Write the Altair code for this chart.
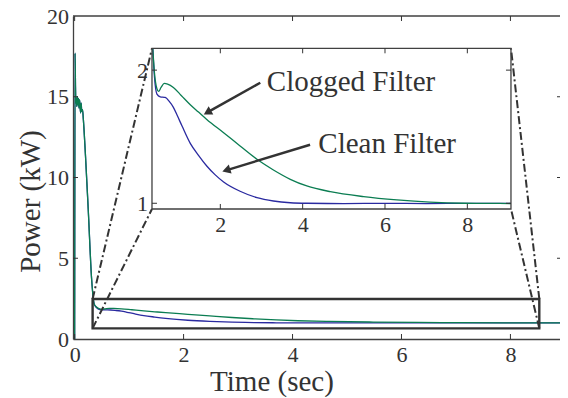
import math
import altair as alt
import pandas as pd

# ---------------- data ----------------
# start-up transient (shared by both cases)
T_SPIKE = [0.0, 0.008, 0.016, 0.024, 0.032, 0.040, 0.050, 0.060, 0.070, 0.080,
           0.090, 0.100, 0.110, 0.120, 0.130, 0.145, 0.160, 0.200, 0.250, 0.313]
P_SPIKE = [0.0, 17.7, 15.6, 14.6, 14.9, 14.4, 15.0, 14.5, 14.9, 14.3,
           14.8, 14.4, 14.0, 14.6, 14.1, 14.2, 13.6, 11.3, 8.0, 3.65]

# clogged filter (green)
T_CLOGGED = [0.36, 0.40, 0.46, 0.50, 0.56, 0.64, 0.72, 0.86, 1.05, 1.27, 1.47, 1.67,
             2.08, 2.48, 2.89, 3.29, 3.70, 4.10, 4.67, 5.48, 6.29, 7.09, 7.90, 8.50,
             9.06, 9.10]
P_CLOGGED = [2.16, 1.98, 1.86, 1.84, 1.87, 1.90, 1.895, 1.87, 1.81, 1.74, 1.685, 1.63,
             1.53, 1.43, 1.33, 1.25, 1.18, 1.13, 1.087, 1.05, 1.025, 1.008, 1.0, 0.999,
             0.998, 0.998]

# clean filter (blue)
T_CLEAN = [0.36, 0.40, 0.46, 0.54, 0.66, 0.76, 0.86, 0.96, 1.07, 1.27, 1.47, 1.67,
           1.87, 2.08, 2.48, 2.89, 3.29, 3.70, 4.10, 5.00, 6.00, 7.00, 8.00, 9.06, 9.10]
P_CLEAN = [2.16, 1.95, 1.82, 1.80, 1.795, 1.765, 1.72, 1.655, 1.58, 1.45, 1.36, 1.28,
           1.215, 1.16, 1.09, 1.042, 1.017, 1.004, 1.0, 0.998, 0.999, 0.998, 0.999,
           0.999, 0.999]

MAIN_XTICKS = [0, 2, 4, 6, 8]
MAIN_YTICKS = [0, 5, 10, 15, 20]
INSET_XTICKS = [2, 4, 6, 8]
INSET_YTICKS = [1, 2]

# zoom box in the main axes, and where the inset sits (main units)
RECT_X = [0.33, 8.53]
RECT_Y = [0.66, 2.48]
INSET_POS_X = [1.42, 8.01]
INSET_POS_Y = [8.05, 18.0]
INSET_XDOM = [0.34, 9.06]
INSET_YDOM = [0.957, 2.164]

ANN_LABELS = ["Clogged Filter", "Clean Filter"]
ANN_T = [3.13, 4.38]
ANN_P = [1.842, 1.377]
ARROW_TAIL_T = [2.97, 4.18]
ARROW_TAIL_P = [1.905, 1.44]
ARROW_TIP_T = [1.59, 2.04]
ARROW_TIP_P = [1.666, 1.238]

# ---------------- layout / style ----------------
W, H = 487, 323
XMAIN = [-0.03, 8.91]
YMAIN = [0, 20]
GREEN = "#0b7d52"
BLUE = "#2a2aa0"
INK = "#333333"
FONT = "Liberation Serif"


def sx(v):
    return (v - XMAIN[0]) / (XMAIN[1] - XMAIN[0]) * W


def sy(v):
    return H - (v - YMAIN[0]) / (YMAIN[1] - YMAIN[0]) * H


ix_range = [sx(INSET_POS_X[0]), sx(INSET_POS_X[1])]
iy_range = [sy(INSET_POS_Y[0]), sy(INSET_POS_Y[1])]

xs_main = alt.Scale(domain=XMAIN, range=[0, W], nice=False, zero=False)
ys_main = alt.Scale(domain=YMAIN, range=[H, 0], nice=False, zero=False)
xs_in = alt.Scale(domain=INSET_XDOM, range=ix_range, nice=False, zero=False)
ys_in = alt.Scale(domain=INSET_YDOM, range=iy_range, nice=False, zero=False)

df_clean = pd.DataFrame({"t": T_SPIKE + T_CLEAN, "P": P_SPIKE + P_CLEAN})
df_clog = pd.DataFrame({"t": T_SPIKE + T_CLOGGED, "P": P_SPIKE + P_CLOGGED})

label_style = dict(labelFont=FONT, labelFontSize=22, labelColor=INK,
                   labelFlush=False, labelOverlap=False, ticks=False,
                   grid=False)

# ---------------- main axes ----------------
x_axis_main = alt.Axis(values=MAIN_XTICKS, format="d", labelPadding=5.5,
                       domain=True, domainColor="#404040", domainWidth=1.3,
                       title="Time (sec)", titleFont=FONT, titleFontSize=29,
                       titleFontWeight="normal", titleColor=INK, titleX=198.5,
                       titleY=51, titleAlign="center", titleBaseline="alphabetic",
                       **label_style)
y_axis_main = alt.Axis(values=MAIN_YTICKS, format="d", labelPadding=4.5,
                       domain=True, domainColor="#404040", domainWidth=1.3,
                       title="Power (kW)", titleFont=FONT, titleFontSize=29,
                       titleFontWeight="normal", titleColor=INK, titleX=-34,
                       titleY=185, titleAlign="center", titleBaseline="alphabetic",
                       **label_style)

main_blue = alt.Chart(df_clean).mark_line(color=BLUE, strokeWidth=1.3,
                                          interpolate="monotone", clip=True).encode(
    x=alt.X("t:Q", scale=xs_main, axis=x_axis_main),
    y=alt.Y("P:Q", scale=ys_main, axis=y_axis_main),
)
main_green = alt.Chart(df_clog).mark_line(color=GREEN, strokeWidth=1.3,
                                          interpolate="monotone", clip=True).encode(
    x=alt.X("t:Q", scale=xs_main, axis=None),
    y=alt.Y("P:Q", scale=ys_main, axis=None),
)

rect_df = pd.DataFrame({"x1": [RECT_X[0]], "x2": [RECT_X[1]],
                        "y1": [RECT_Y[0]], "y2": [RECT_Y[1]]})
zoom_rect = alt.Chart(rect_df).mark_rect(fillOpacity=0, stroke=INK, strokeWidth=2.4).encode(
    x=alt.X("x1:Q", scale=xs_main, axis=None), x2="x2:Q",
    y=alt.Y("y1:Q", scale=ys_main, axis=None), y2="y2:Q",
)

conn_df = pd.DataFrame({
    "x1": [RECT_X[0], RECT_X[0], RECT_X[1], RECT_X[1]],
    "y1": [RECT_Y[1], RECT_Y[0], RECT_Y[1], RECT_Y[0]],
    "x2": [INSET_POS_X[0], INSET_POS_X[0], INSET_POS_X[1], INSET_POS_X[1]],
    "y2": [INSET_POS_Y[1], INSET_POS_Y[0], INSET_POS_Y[1], INSET_POS_Y[0]],
})
connectors = alt.Chart(conn_df).mark_rule(color=INK, strokeWidth=2,
                                          strokeDash=[8, 3, 2, 3]).encode(
    x=alt.X("x1:Q", scale=xs_main, axis=None), x2="x2:Q",
    y=alt.Y("y1:Q", scale=ys_main, axis=None), y2="y2:Q",
)

top_spine = alt.Chart(pd.DataFrame({"v": [YMAIN[1]]})).mark_rule(
    color="#404040", strokeWidth=1.3).encode(y=alt.Y("v:Q", scale=ys_main, axis=None))

xt_df = pd.DataFrame({"v": MAIN_XTICKS})
yt_df = pd.DataFrame({"v": MAIN_YTICKS[1:-1]})
tick_bottom = alt.Chart(xt_df).mark_rule(color=INK, strokeWidth=1).encode(
    x=alt.X("v:Q", scale=xs_main, axis=None), y=alt.value(H), y2=alt.value(H - 5))
tick_top = alt.Chart(xt_df).mark_rule(color=INK, strokeWidth=1).encode(
    x=alt.X("v:Q", scale=xs_main, axis=None), y=alt.value(0), y2=alt.value(5))
tick_left = alt.Chart(yt_df).mark_rule(color=INK, strokeWidth=1).encode(
    y=alt.Y("v:Q", scale=ys_main, axis=None), x=alt.value(0), x2=alt.value(5))
tick_right = alt.Chart(yt_df).mark_rule(color=INK, strokeWidth=1).encode(
    y=alt.Y("v:Q", scale=ys_main, axis=None), x=alt.value(W - 3), x2=alt.value(W))

# ---------------- inset axes ----------------
x_axis_in = alt.Axis(values=INSET_XTICKS, format="d", orient="bottom",
                     offset=-(H - iy_range[0]), labelPadding=5.5, domain=False,
                     title="", **label_style)
y_axis_in = alt.Axis(values=INSET_YTICKS, format="d", orient="left",
                     offset=-ix_range[0], labelPadding=4.5, domain=False,
                     title="", **label_style)

in_filter = f"datum.t >= {INSET_XDOM[0]} && datum.t <= {INSET_XDOM[1]}"

in_blue = alt.Chart(df_clean).transform_filter(in_filter).mark_line(
    color=BLUE, strokeWidth=1.3, interpolate="monotone").encode(
    x=alt.X("t:Q", scale=xs_in, axis=x_axis_in),
    y=alt.Y("P:Q", scale=ys_in, axis=y_axis_in),
)
in_green = alt.Chart(df_clog).transform_filter(in_filter).mark_line(
    color=GREEN, strokeWidth=1.3, interpolate="monotone").encode(
    x=alt.X("t:Q", scale=xs_in, axis=None),
    y=alt.Y("P:Q", scale=ys_in, axis=None),
)

frame_df = pd.DataFrame({"x1": [INSET_XDOM[0]], "x2": [INSET_XDOM[1]],
                         "y1": [INSET_YDOM[0]], "y2": [INSET_YDOM[1]]})
in_frame = alt.Chart(frame_df).mark_rect(fillOpacity=0, stroke="#404040",
                                         strokeWidth=1.3).encode(
    x=alt.X("x1:Q", scale=xs_in, axis=None), x2="x2:Q",
    y=alt.Y("y1:Q", scale=ys_in, axis=None), y2="y2:Q",
)

ixt_df = pd.DataFrame({"v": INSET_XTICKS})
iyt_df = pd.DataFrame({"v": INSET_YTICKS})
in_tick_b = alt.Chart(ixt_df).mark_rule(color=INK, strokeWidth=1).encode(
    x=alt.X("v:Q", scale=xs_in, axis=None),
    y=alt.value(iy_range[0]), y2=alt.value(iy_range[0] - 5))
in_tick_t = alt.Chart(ixt_df).mark_rule(color=INK, strokeWidth=1).encode(
    x=alt.X("v:Q", scale=xs_in, axis=None),
    y=alt.value(iy_range[1]), y2=alt.value(iy_range[1] + 5))
in_tick_l = alt.Chart(iyt_df).mark_rule(color=INK, strokeWidth=1).encode(
    y=alt.Y("v:Q", scale=ys_in, axis=None),
    x=alt.value(ix_range[0]), x2=alt.value(ix_range[0] + 5))
in_tick_r = alt.Chart(iyt_df).mark_rule(color=INK, strokeWidth=1).encode(
    y=alt.Y("v:Q", scale=ys_in, axis=None),
    x=alt.value(ix_range[1]), x2=alt.value(ix_range[1] - 5))

# arrows: shaft + triangular head
kx = (ix_range[1] - ix_range[0]) / (INSET_XDOM[1] - INSET_XDOM[0])
ky = (iy_range[0] - iy_range[1]) / (INSET_YDOM[1] - INSET_YDOM[0])
head_t, head_p, head_ang, shaft_t, shaft_p = [], [], [], [], []
for tt, tp, ht, hp in zip(ARROW_TAIL_T, ARROW_TAIL_P, ARROW_TIP_T, ARROW_TIP_P):
    dx = (ht - tt) * kx
    dy = -(hp - tp) * ky
    ln = math.hypot(dx, dy)
    ux, uy = dx / ln, dy / ln
    head_ang.append(math.degrees(math.atan2(dy, dx)) % 360)
    head_t.append(ht - 4.5 * ux / kx)
    head_p.append(hp + 4.5 * uy / ky)
    shaft_t.append(ht - 6 * ux / kx)
    shaft_p.append(hp + 6 * uy / ky)

shaft_df = pd.DataFrame({"t1": ARROW_TAIL_T, "p1": ARROW_TAIL_P,
                         "t2": shaft_t, "p2": shaft_p})
shafts = alt.Chart(shaft_df).mark_rule(color=INK, strokeWidth=2.5).encode(
    x=alt.X("t1:Q", scale=xs_in, axis=None), x2="t2:Q",
    y=alt.Y("p1:Q", scale=ys_in, axis=None), y2="p2:Q",
)
head_df = pd.DataFrame({"t": head_t, "p": head_p, "a": head_ang})
heads = alt.Chart(head_df).mark_point(shape="triangle-right", filled=True,
                                      color=INK, size=90, opacity=1).encode(
    x=alt.X("t:Q", scale=xs_in, axis=None),
    y=alt.Y("p:Q", scale=ys_in, axis=None),
    angle=alt.Angle("a:Q", scale=None),
)

ann_df = pd.DataFrame({"t": ANN_T, "p": ANN_P, "label": ANN_LABELS})
ann = alt.Chart(ann_df).mark_text(font=FONT, fontSize=29, color=INK, align="left",
                                  baseline="alphabetic").encode(
    x=alt.X("t:Q", scale=xs_in, axis=None),
    y=alt.Y("p:Q", scale=ys_in, axis=None),
    text="label:N",
)

chart = alt.layer(
    main_blue, main_green, zoom_rect, connectors, top_spine,
    tick_bottom, tick_top, tick_left, tick_right,
    in_blue, in_green, in_frame, in_tick_b, in_tick_t, in_tick_l, in_tick_r,
    shafts, heads, ann,
).resolve_scale(
    x="independent", y="independent"
).properties(
    width=W, height=H,
    autosize=alt.AutoSizeParams(type="none"),
    padding={"left": 65, "top": 8, "right": 0, "bottom": 58},
).configure_view(stroke="transparent").configure_axis(
    labelFont=FONT, titleFont=FONT
)

chart.save("out.html", embed_options={"renderer": "svg", "actions": False})
